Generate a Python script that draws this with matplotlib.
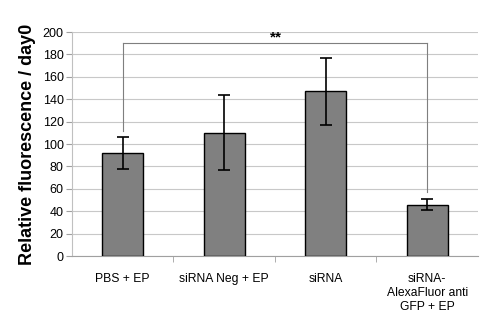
import matplotlib.pyplot as plt

plt.rcParams['font.family'] = ['Liberation Sans', 'DejaVu Sans']

categories = ['PBS + EP', 'siRNA Neg + EP', 'siRNA', 'siRNA-\nAlexaFluor anti\nGFP + EP']
values = [92, 110, 147, 46]
errors = [14.5, 33.5, 30, 4.5]
bracket_y = 190
bracket_ends = [112, 57]
sig_label = '**'
y_ticks = list(range(0, 201, 20))


def plot_bars():
    fig = plt.figure(figsize=(4.86, 3.27), dpi=100)
    ax = fig.add_axes([0.148, 0.217, 0.8355, 0.685])

    xs = list(range(len(categories)))
    ax.bar(xs, values, width=0.4, color='#808080', edgecolor='black',
           linewidth=1.0, zorder=3)
    ax.errorbar(xs, values, yerr=errors, fmt='none', ecolor='black',
                elinewidth=1.2, capsize=4, capthick=1.2, zorder=4)

    # significance bracket between first and last group
    gray = '#7f7f7f'
    ax.plot([xs[0], xs[0]], [bracket_ends[0], bracket_y], color=gray, lw=0.8, zorder=2)
    ax.plot([xs[0], xs[-1]], [bracket_y, bracket_y], color=gray, lw=0.8, zorder=2)
    ax.plot([xs[-1], xs[-1]], [bracket_ends[1], bracket_y], color=gray, lw=0.8, zorder=2)
    ax.text((xs[0] + xs[-1]) / 2 + 0.01, bracket_y - 1, sig_label, ha='center',
            va='bottom', fontsize=11, fontweight='bold')

    ax.set_xlim(-0.5, len(categories) - 0.5)
    ax.set_ylim(0, 200)
    ax.set_yticks(y_ticks)
    ax.tick_params(axis='y', labelsize=9, length=4, color='#a0a0a0', pad=2)
    ax.yaxis.grid(True, color='#c8c8c8', lw=0.8, zorder=0)

    ax.set_xticks(xs)
    ax.set_xticklabels(categories, fontsize=8.7, linespacing=1.25)
    ax.tick_params(axis='x', length=0, pad=12)
    ax.set_xticks([x + 0.5 for x in xs[:-1]], minor=True)
    ax.tick_params(axis='x', which='minor', length=4, color='#a0a0a0')

    for side in ['top', 'right']:
        ax.spines[side].set_visible(False)
    ax.spines['left'].set_color('#c0c0c0')
    ax.spines['bottom'].set_color('#a0a0a0')

    ax.set_ylabel('Relative fluorescence / day0', fontsize=13,
                  fontweight='bold', labelpad=5)

    fig.savefig('out.png', dpi=100)


if __name__ == '__main__':
    plot_bars()
